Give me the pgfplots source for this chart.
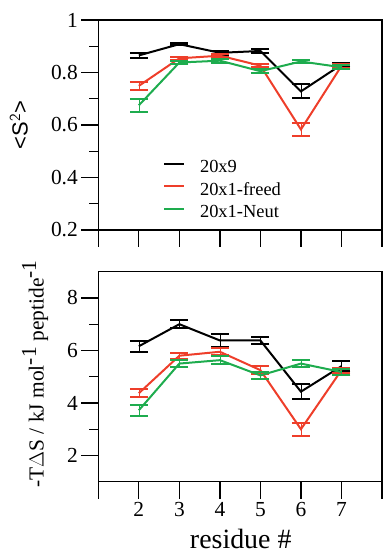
\documentclass[border=0pt]{standalone}
\usepackage{pgfplots}
\pgfplotsset{compat=1.18}
\usepackage{fontspec}
\setmainfont{Liberation Serif}
\newfontfamily\sansf{Liberation Sans}
\definecolor{myred}{RGB}{238,62,42}
\definecolor{mygreen}{RGB}{30,172,78}
\begin{document}
\begin{tikzpicture}
\useasboundingbox (0bp,0bp) rectangle (383bp,554bp);
\pgfplotsset{
 myaxis/.style={
  scale only axis, width=283.7bp, height=210bp,
  xmin=1, xmax=8, xtick={1,2,3,4,5,6,7,8},
  axis line style={line width=1.3bp},
  every tick/.style={line width=1.3bp, black},
  tick align=outside,
  major tick length=17bp, minor tick length=9bp,
  xtick pos=bottom, ytick pos=left,
  tick label style={font=\fontsize{21.5}{21.5}\selectfont},
  /pgf/number format/assume math mode=true,
  every axis plot/.append style={line width=2bp},
  error bars/y dir=both, error bars/y explicit,
  error bars/error mark options={rotate=90, mark size=9bp, line width=2bp},
  clip=false,
 }}
\begin{axis}[myaxis,
  at={(98.3bp,324bp)}, anchor=south west,
  ymin=0.2, ymax=1, ytick={0.2,0.4,0.6,0.8,1}, minor ytick={0.3,0.5,0.7,0.9},
  xticklabels={},
  ylabel={\sansf\fontsize{22}{22}\selectfont <S$^{\mathsf{2}}$>},
  every axis y label/.style={at={(axis description cs:-0.28,0.5)}, rotate=90, anchor=center},
  legend cell align=left,
  legend style={at={(axis description cs:0.217,0.345)}, anchor=north west, draw=none, fill=none,
    font=\fontsize{18.5}{18.5}\selectfont, row sep=5.5bp,
    nodes={inner sep=0pt, text height=13bp, text depth=4bp},
    /tikz/every odd column/.append style={column sep=15bp}},
  legend image code/.code={\draw[#1, line width=2bp] (0bp,4.5bp) -- (20bp,4.5bp);},
]
\addplot[black] coordinates {(2,0.865) +- (0,0.011) (3,0.908) +- (0,0.004) (4,0.875) +- (0,0.008) (5,0.882) +- (0,0.006) (6,0.728) +- (0,0.027) (7,0.83) +- (0,0.006)};
\addlegendentry{20x9}
\addplot[myred] coordinates {(2,0.749) +- (0,0.016) (3,0.854) +- (0,0.006) (4,0.864) +- (0,0.006) (5,0.826) +- (0,0.006) (6,0.583) +- (0,0.025) (7,0.825) +- (0,0.006)};
\addlegendentry{20x1-freed}
\addplot[mygreen] coordinates {(2,0.675) +- (0,0.024) (3,0.838) +- (0,0.007) (4,0.845) +- (0,0.008) (5,0.805) +- (0,0.008) (6,0.842) +- (0,0.006) (7,0.82) +- (0,0.007)};
\addlegendentry{20x1-Neut}
\end{axis}
\begin{axis}[myaxis,
  at={(98.3bp,72.3bp)}, anchor=south west,
  ymin=1, ymax=9, ytick={2,4,6,8}, minor ytick={3,5,7},
  xticklabels={,2,3,4,5,6,7,},
  ylabel={\fontsize{21.5}{21.5}\selectfont -T$\Delta$S / kJ mol$^{\textrm{-1}}$ peptide$^{\textrm{-1}}$},
  every axis y label/.style={at={(axis description cs:-0.223,0.514)}, rotate=90, anchor=center},
  xlabel={\fontsize{28}{28}\selectfont residue \#},
  every axis x label/.style={at={(axis description cs:0.502,0)}, anchor=base, yshift=-66.5bp, inner sep=0pt},
]
\addplot[black] coordinates {(2,6.16) +- (0,0.2) (3,7.0) +- (0,0.16) (4,6.38) +- (0,0.25) (5,6.38) +- (0,0.14) (6,4.43) +- (0,0.29) (7,5.4) +- (0,0.2)};
\addplot[myred] coordinates {(2,4.37) +- (0,0.16) (3,5.8) +- (0,0.12) (4,5.95) +- (0,0.14) (5,5.25) +- (0,0.15) (6,3.0) +- (0,0.25) (7,5.25) +- (0,0.1)};
\addplot[mygreen] coordinates {(2,3.72) +- (0,0.2) (3,5.5) +- (0,0.14) (4,5.63) +- (0,0.14) (5,5.05) +- (0,0.14) (6,5.5) +- (0,0.14) (7,5.18) +- (0,0.12)};
\end{axis}
\end{tikzpicture}
\end{document}
